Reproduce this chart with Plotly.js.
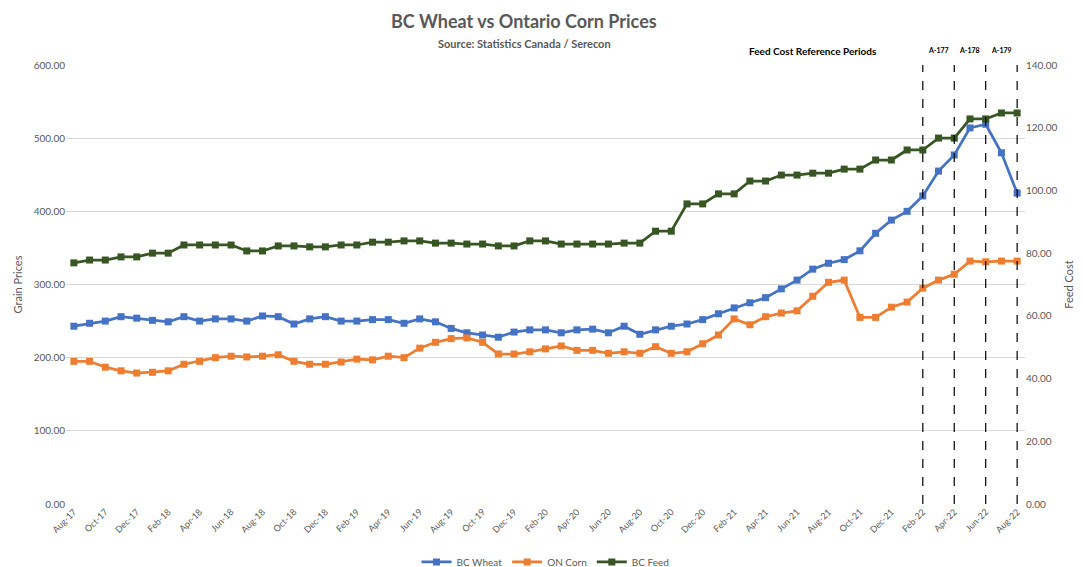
<!DOCTYPE html>
<html>
<head>
<meta charset="utf-8">
<script src="https://cdn.plot.ly/plotly-3.0.1.min.js"></script>
<style>html,body{margin:0;padding:0;background:#fff;}#chart{width:1083px;height:567px;}</style>
</head>
<body>
<div id="chart"></div>
<script>
const months = ["Aug-17","Sep-17","Oct-17","Nov-17","Dec-17","Jan-18","Feb-18","Mar-18","Apr-18","May-18","Jun-18","Jul-18",
"Aug-18","Sep-18","Oct-18","Nov-18","Dec-18","Jan-19","Feb-19","Mar-19","Apr-19","May-19","Jun-19","Jul-19",
"Aug-19","Sep-19","Oct-19","Nov-19","Dec-19","Jan-20","Feb-20","Mar-20","Apr-20","May-20","Jun-20","Jul-20",
"Aug-20","Sep-20","Oct-20","Nov-20","Dec-20","Jan-21","Feb-21","Mar-21","Apr-21","May-21","Jun-21","Jul-21",
"Aug-21","Sep-21","Oct-21","Nov-21","Dec-21","Jan-22","Feb-22","Mar-22","Apr-22","May-22","Jun-22","Jul-22","Aug-22"];

const bcWheat = [243,247,250,256,254,251,249,256,250,253,253,250,
257,256,246,253,256,250,250,252,252,247,253,249,
240,234,231,228,235,238,238,234,238,239,234,243,
232,238,243,246,252,260,268,275,282,294,306,321,
329,334,346,370,388,400,421,455,477,514,519,480,425];

const onCorn = [195,195,187,182,179,180,182,191,195,200,202,201,
202,204,195,191,191,194,198,197,202,200,213,221,
226,227,221,205,205,208,212,216,210,210,206,208,
206,215,206,208,219,231,253,245,256,261,264,284,
303,306,255,255,269,276,295,306,314,332,331,332,332];

const bcFeed = [76.9,77.8,77.8,78.8,78.8,80.0,80.0,82.6,82.6,82.6,82.6,80.7,
80.7,82.3,82.3,82.0,82.0,82.6,82.6,83.5,83.5,83.9,83.9,83.2,
83.2,82.9,82.9,82.3,82.3,83.9,83.9,82.9,82.9,82.9,82.9,83.2,
83.2,87.0,87.0,95.7,95.7,98.9,98.9,103.0,103.0,104.9,104.9,105.5,
105.5,106.8,106.8,109.7,109.7,112.9,112.9,116.7,116.7,122.8,122.8,124.7,124.7];

const tickLabels = months.filter((m, i) => i % 2 === 0);
const refMonths = ["Feb-22","Apr-22","Jun-22","Aug-22"];
const refLabels = ["A-177","A-178","A-179"];

const fontFam = "Lato, 'Open Sans', sans-serif";
const grey = "#595959";

function series(name, y, color, axis) {
  return {
    x: months, y: y, name: name, type: "scatter", mode: "lines+markers",
    yaxis: axis,
    line: {color: color, width: 2.75},
    marker: {symbol: "square", size: 7, color: color}
  };
}

const data = [
  series("BC Wheat", bcWheat, "#4472C4", "y"),
  series("ON Corn", onCorn, "#ED7D31", "y"),
  series("BC Feed", bcFeed, "#375623", "y2")
];

const shapes = refMonths.map(m => ({
  type: "line", xref: "x", yref: "paper",
  x0: months.indexOf(m), x1: months.indexOf(m), y0: 0, y1: 1,
  line: {color: "#000", width: 1.2, dash: "dash"}
}));

const annotations = [
  {text: "<b>BC Wheat vs Ontario Corn Prices</b>", xref: "paper", yref: "paper", x: 0.478, y: 1.100,
   showarrow: false, font: {family: fontFam, size: 18, color: grey}, xanchor: "center", yanchor: "middle"},
  {text: "<b>Source: Statistics Canada / Serecon</b>", xref: "paper", yref: "paper", x: 0.478, y: 1.050,
   showarrow: false, font: {family: fontFam, size: 11, color: grey}, xanchor: "center", yanchor: "middle"},
  {text: "<b>Feed Cost Reference Periods</b>", xref: "paper", yref: "paper", x: 0.779, y: 1.032,
   showarrow: false, font: {family: fontFam, size: 10, color: "#000"}, xanchor: "center", yanchor: "middle"}
];
refLabels.forEach((t, i) => {
  const a = months.indexOf(refMonths[i]), b = months.indexOf(refMonths[i + 1]);
  annotations.push({text: "<b>" + t + "</b>", xref: "x", yref: "paper", x: (a + b) / 2, y: 1.035,
    showarrow: false, font: {family: fontFam, size: 7, color: "#000"}, xanchor: "center", yanchor: "middle"});
});

const layout = {
  width: 1083, height: 567,
  margin: {l: 66, r: 58, t: 65, b: 63, autoexpand: false},
  paper_bgcolor: "#fff", plot_bgcolor: "#fff",
  font: {family: fontFam, color: grey, size: 10},
  xaxis: {
    type: "category", range: [-0.5, 60.5], automargin: false,
    tickmode: "array", tickvals: tickLabels, ticktext: tickLabels,
    tickangle: -45, showgrid: false, zeroline: false, showline: false,
    ticks: "", tickfont: {size: 9, color: grey}
  },
  yaxis: {
    range: [0, 600], dtick: 100, tickformat: ".2f", automargin: false,
    showgrid: true, gridcolor: "#d9d9d9", gridwidth: 1, zeroline: false, showline: false,
    ticks: "", tickfont: {size: 10, color: grey},
    title: {text: "Grain Prices", font: {size: 11, color: grey}, standoff: 8}
  },
  yaxis2: {
    overlaying: "y", side: "right", range: [0, 140], dtick: 20, tickformat: ".2f", automargin: false,
    showgrid: false, zeroline: false, showline: false, ticks: "",
    tickfont: {size: 10, color: grey},
    title: {text: "Feed Cost", font: {size: 11, color: grey}, standoff: 8}
  },
  legend: {
    orientation: "h", x: 0.5, xanchor: "center", y: -0.132, yanchor: "middle",
    font: {size: 10, color: grey}
  },
  shapes: shapes,
  annotations: annotations,
  showlegend: true
};

Plotly.newPlot("chart", data, layout, {displayModeBar: false, staticPlot: true});
</script>
</body>
</html>
